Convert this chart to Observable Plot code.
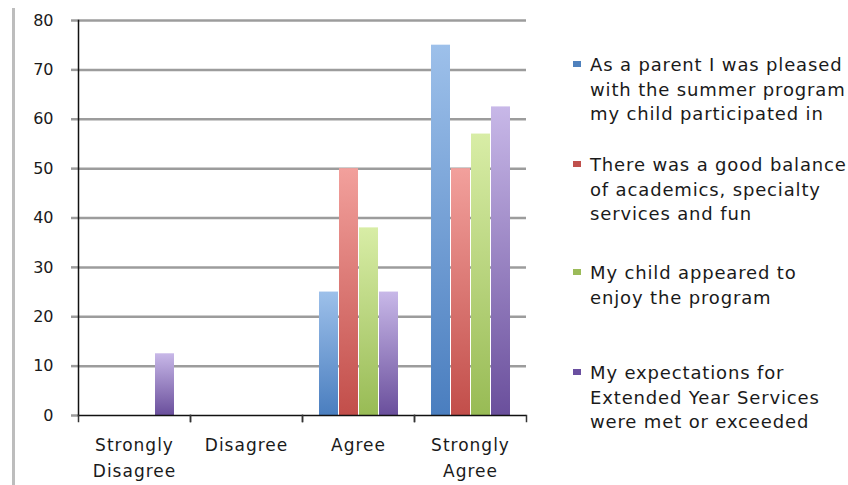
<!DOCTYPE html>
<html><head><meta charset="utf-8">
<script src="https://cdn.jsdelivr.net/npm/d3@7"></script>
<script src="https://cdn.jsdelivr.net/npm/@observablehq/plot@0.6"></script>
<style>
body{margin:0;background:#fff;}
#wrap{position:relative;width:848px;height:485px;overflow:hidden;font-family:"DejaVu Sans",sans-serif;}
#wrap svg{position:absolute;left:0;top:0;}
#edge{position:absolute;left:12px;top:8px;width:3px;height:477px;background:#bdbdbd;}
.item{position:absolute;left:573px;}
.sw{position:absolute;left:0;top:8px;width:8px;height:6px;}
.lbl{position:absolute;left:17px;top:0;white-space:nowrap;font-size:18px;letter-spacing:0.85px;line-height:24.5px;color:#1a1a1a;}
g[aria-label="fx-axis tick label"] text{letter-spacing:1px;}
</style></head><body><div id="wrap"><div id="edge"></div></div>
<script>
const categories = ["Strongly Disagree", "Disagree", "Agree", "Strongly Agree"];
const categoryLabels = ["Strongly\nDisagree", "Disagree", "Agree", "Strongly\nAgree"];
const series = [
  "As a parent I was pleased with the summer program my child participated in",
  "There was a good balance of academics, specialty services and fun",
  "My child appeared to enjoy the program",
  "My expectations for Extended Year Services were met or exceeded"
];
const legendLines = [
  ["As a parent I was pleased", "with the summer program", "my child participated in"],
  ["There was a good balance", "of academics, specialty", "services and fun"],
  ["My child appeared to", "enjoy the program"],
  ["My expectations for", "Extended Year Services", "were met or exceeded"]
];
// values per series, in category order
const pleased   = [0, 0, 25, 75];
const balance   = [0, 0, 50, 50];
const enjoy     = [0, 0, 38, 57];
const expect    = [12.5, 0, 25, 62.5];
const seriesValues = [pleased, balance, enjoy, expect];
const yTicks = [0, 10, 20, 30, 40, 50, 60, 70, 80];

const gradTop = ["#9dc0ea", "#f2a09c", "#d8eda6", "#c8b8e8"];
const gradBot = ["#4a7ebf", "#c24e4a", "#98bb55", "#6a4f9c"];
const swatch  = ["#4f81bd", "#c0504d", "#9bbb59", "#6a4fa0"];

const data = categories.flatMap((c, ci) => series.map((s, si) => ({category: c, series: s, value: seriesValues[si][ci]})));

const plot = Plot.plot({
  width: 848, height: 485,
  marginLeft: 77, marginRight: 321, marginTop: 20, marginBottom: 70,
  style: {fontFamily: "DejaVu Sans", background: "transparent", overflow: "visible"},
  fx: {domain: categories, padding: 0, axis: null},
  x: {domain: series, paddingInner: 0.05, paddingOuter: 0.8, axis: null},
  y: {domain: [0, 80], axis: null},
  color: {domain: series, range: series.map((s, i) => `url(#grad${i})`)},
  marks: [
    Plot.ruleY(yTicks.filter(d => d > 0), {stroke: "#9c9c9c", strokeWidth: 2.5}),
    Plot.barY(data, {fx: "category", x: "series", y: "value", fill: "series"}),
    Plot.axisY({ticks: yTicks, tickSize: 7, tickPadding: 18, stroke: "#9c9c9c", strokeWidth: 2.5, fill: "#1a1a1a", fontSize: 16, label: null}),
    Plot.frame({anchor: "left", facetAnchor: "left", stroke: "#111", strokeWidth: 1.5}),
    Plot.ruleY([0], {stroke: "#111", strokeWidth: 1.5}),
    Plot.frame({anchor: "left", insetTop: 395, insetBottom: -6, stroke: "#333", strokeWidth: 1.5}),
    Plot.frame({anchor: "right", insetTop: 395, insetBottom: -6, stroke: "#333", strokeWidth: 1.5}),
    Plot.axisFx({anchor: "bottom", tickSize: 0, tickPadding: 17, fontSize: 17, lineHeight: 1.53, fill: "#1a1a1a", label: null,
      tickFormat: d => categoryLabels[categories.indexOf(d)]})
  ]
});

const defs = d3.select(plot).insert("defs", ":first-child");
series.forEach((s, i) => {
  const g = defs.append("linearGradient").attr("id", `grad${i}`).attr("x1", 0).attr("y1", 0).attr("x2", 0).attr("y2", 1);
  g.append("stop").attr("offset", "0%").attr("stop-color", gradTop[i]);
  g.append("stop").attr("offset", "100%").attr("stop-color", gradBot[i]);
});

const wrap = document.getElementById("wrap");
wrap.appendChild(plot);

const legendTops = [53, 153, 261, 361];
series.forEach((s, i) => {
  const item = document.createElement("div");
  item.className = "item";
  item.style.top = legendTops[i] + "px";
  const sw = document.createElement("div");
  sw.className = "sw";
  sw.style.background = swatch[i];
  item.appendChild(sw);
  const lbl = document.createElement("div");
  lbl.className = "lbl";
  lbl.innerHTML = legendLines[i].join("<br>");
  item.appendChild(lbl);
  wrap.appendChild(item);
});
</script>
</body></html>
